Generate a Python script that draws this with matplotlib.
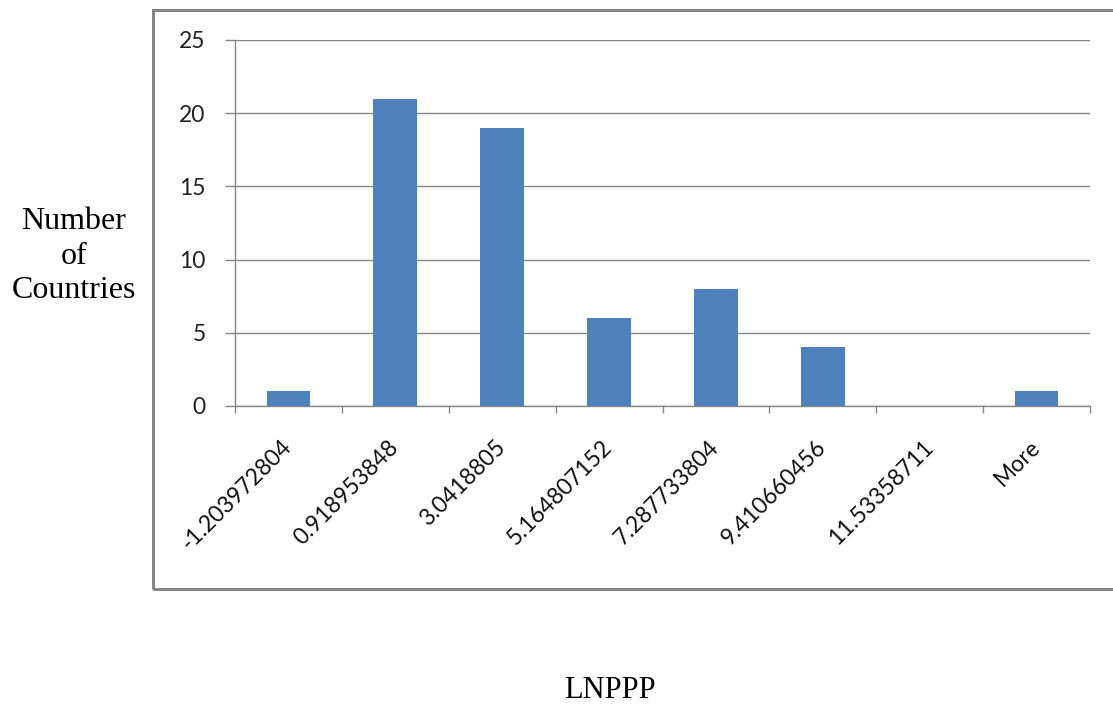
import matplotlib
matplotlib.use("Agg")
import matplotlib.pyplot as plt
from matplotlib.patches import Rectangle
import numpy as np

# Histogram bins (upper bounds) and country counts
bins = ["-1.203972804", "0.918953848", "3.0418805", "5.164807152",
        "7.287733804", "9.410660456", "11.53358711", "More"]
counts = [1, 21, 19, 6, 8, 4, 0, 1]
y_ticks = [0, 5, 10, 15, 20, 25]

W, H = 1113, 704
fig = plt.figure(figsize=(W / 100, H / 100), dpi=100)
fig.patch.set_facecolor("white")

# Chart-area frame
frame = Rectangle((153 / W, 1 - 589 / H), 2.0, (589 - 10) / H,
                  transform=fig.transFigure, fill=False,
                  edgecolor="#878787", linewidth=2.2, zorder=0)
fig.patches.append(frame)

ax = fig.add_axes([235 / W, 1 - 406 / H, (1090 - 235) / W, (406 - 40) / H])
x = np.arange(len(bins))
ax.bar(x, counts, width=0.41, color="#4F81BD", zorder=3)

ax.set_xlim(-0.5, len(bins) - 0.5)
ax.set_ylim(0, 25)
ax.set_yticks(y_ticks)
ax.set_yticklabels([str(v) for v in y_ticks], fontsize=16.5, family="Lato",
                   color="#222222")
ax.yaxis.grid(True, color="#868686", linewidth=1.0, zorder=0)
ax.tick_params(axis="y", length=7.2, width=1.0, color="#868686", pad=14)

# Category ticks sit on the bin boundaries
ax.set_xticks(np.arange(len(bins) + 1) - 0.5, minor=False)
ax.set_xticklabels([])
ax.tick_params(axis="x", length=5, width=1.0, color="#868686")
ax.set_xticks(x, minor=True)
ax.set_xticklabels(bins, minor=True, rotation=45, ha="right", va="center",
                   rotation_mode="anchor", fontsize=16.5, family="Lato",
                   color="#111111")
ax.tick_params(axis="x", which="minor", length=0, pad=27)

for side in ["top", "right"]:
    ax.spines[side].set_visible(False)
for side in ["left", "bottom"]:
    ax.spines[side].set_color("#868686")
    ax.spines[side].set_linewidth(1.0)

fig.text(74 / W, 1 - 256 / H, "Number\nof\nCountries", ha="center",
         va="center", multialignment="center", fontsize=23,
         family="Liberation Serif", linespacing=1.25)
fig.text(610 / W, 1 - 690 / H, "LNPPP", ha="center", va="center",
         fontsize=22, family="Liberation Serif")

fig.savefig("out.png", dpi=100)
